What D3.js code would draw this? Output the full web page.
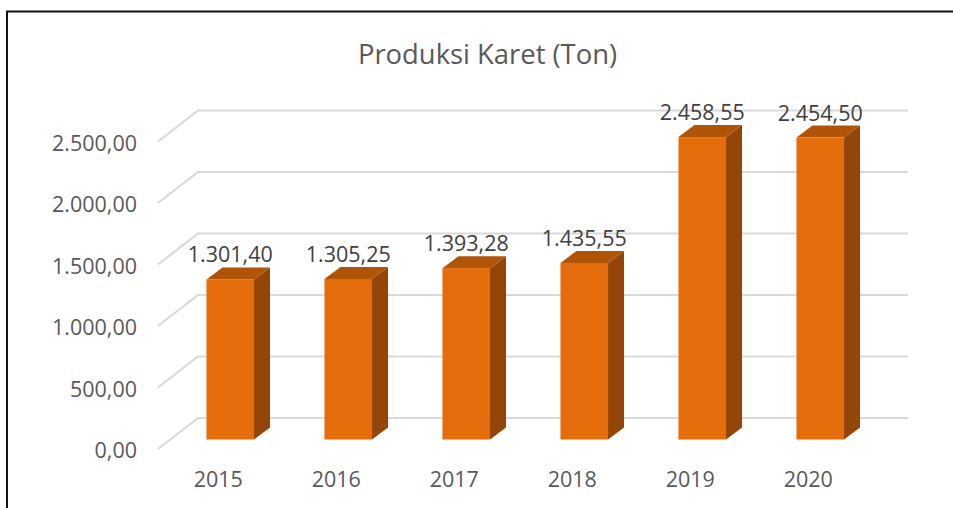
<!DOCTYPE html>
<html>
<head>
<meta charset="utf-8">
<script src="https://d3js.org/d3.v7.min.js"></script>
<style>
  html, body { margin: 0; padding: 0; background: #fff; }
  svg { display: block; }
  text { font-family: "Open Sans", sans-serif; }
</style>
</head>
<body>
<div id="container"></div>
<script>
var years = ["2015", "2016", "2017", "2018", "2019", "2020"];
var produksi = [1301.40, 1305.25, 1393.28, 1435.55, 2458.55, 2454.50];
var axisTicks = [0, 500, 1000, 1500, 2000, 2500];
var title = "Produksi Karet (Ton)";

var width = 953, height = 508;
var floorDx = 40, floorDy = 31;   // depth of the chart floor
var barDx = 16, barDy = 12;       // depth of each bar
var barBase = 439.5;
var labelSize = 21.5;

var idLocale = d3.formatLocale({ decimal: ",", thousands: ".", grouping: [3], currency: ["Rp", ""] });
var fmt = idLocale.format(",.2f");

var svg = d3.select("#container").append("svg")
  .attr("width", width)
  .attr("height", height);

// frame of the screenshot
svg.append("path")
  .attr("d", "M7,508V11.5H953")
  .attr("fill", "none")
  .attr("stroke", "#111")
  .attr("stroke-width", 2);

svg.append("text")
  .attr("x", 487.5)
  .attr("y", 63.5)
  .attr("text-anchor", "middle")
  .attr("font-size", 27.4)
  .attr("fill", "#595959")
  .text(title);

var x = d3.scaleBand()
  .domain(years)
  .range([171.25, 879.25])
  .paddingInner(0.597)
  .paddingOuter(0.2985);

// y on the back wall
var y = d3.scaleLinear().domain([0, 2500]).range([418, 110.5]);
var barH = function (v) { return y(0) - y(v); };

// gridlines: back wall plus the slanted part on the left
svg.append("g").selectAll("path")
  .data(axisTicks)
  .enter().append("path")
  .attr("d", function (d) {
    return "M158," + (y(d) + floorDy) + "L198," + y(d) + "H908";
  })
  .attr("fill", "none")
  .attr("stroke", "#d9d9d9")
  .attr("stroke-width", 2.2);

// value axis, drawn on the front edge of the floor
var yFront = y.copy().range([418 + floorDy + 2, 110.5 + floorDy + 2]);
var yAxis = svg.append("g")
  .attr("transform", "translate(137,0)")
  .call(d3.axisLeft(yFront).tickValues(axisTicks).tickSize(0).tickPadding(0).tickFormat(fmt));
yAxis.select(".domain").remove();
yAxis.selectAll("text")
  .attr("font-size", labelSize)
  .attr("font-family", '"Open Sans", sans-serif')
  .attr("fill", "#595959");

// category axis
var xAxis = svg.append("g")
  .attr("transform", "translate(-12,472)")
  .call(d3.axisBottom(x).tickSize(0).tickPadding(0));
xAxis.select(".domain").remove();
xAxis.selectAll("text")
  .attr("font-size", labelSize)
  .attr("font-family", '"Open Sans", sans-serif')
  .attr("fill", "#595959");

var bars = svg.append("g").selectAll("g")
  .data(produksi)
  .enter().append("g");

var bx = function (d, i) { return x(years[i]); };
var bw = x.bandwidth();

// right side face
bars.append("path")
  .attr("fill", "#934607")
  .attr("d", function (d, i) {
    var r = bx(d, i) + bw, top = barBase - barH(d);
    return "M" + r + "," + top + "l" + barDx + "," + (-barDy) + "V" + (barBase - barDy) + "L" + r + "," + barBase + "Z";
  });

// top face
bars.append("path")
  .attr("fill", "#B05408")
  .attr("d", function (d, i) {
    var l = bx(d, i), top = barBase - barH(d);
    return "M" + l + "," + top + "l" + barDx + "," + (-barDy) + "h" + bw + "l" + (-barDx) + "," + barDy + "Z";
  });

// front face
bars.append("rect")
  .attr("fill", "#E46C0A")
  .attr("x", bx)
  .attr("y", function (d) { return barBase - barH(d); })
  .attr("width", bw)
  .attr("height", function (d) { return barH(d); });

// value labels
bars.append("text")
  .attr("x", function (d, i) { return bx(d, i) + bw / 2; })
  .attr("y", function (d) { return barBase - barH(d) - barDy - 5; })
  .attr("text-anchor", "middle")
  .attr("font-size", labelSize)
  .attr("fill", "#404040")
  .text(function (d) { return fmt(d); });
</script>
</body>
</html>
